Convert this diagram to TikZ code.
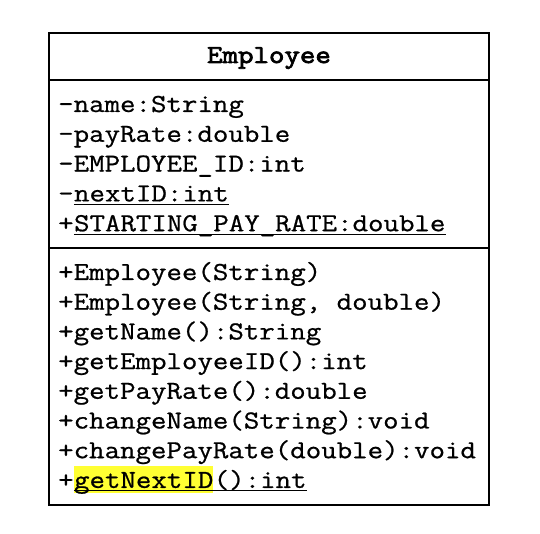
\documentclass[tikz,border=0pt]{standalone}
\usepackage{fontspec}
\newfontfamily\umlfont{Latin Modern Mono}[FakeStretch=1.16, FakeBold=0.8]
\newfontfamily\umltitlefont{Latin Modern Mono}[FakeStretch=1.16, FakeBold=3]
\usetikzlibrary{positioning}
\definecolor{hlyellow}{RGB}{255,255,51}
\tikzset{member/.style={font=\umlfont\fontsize{25.9}{30}\selectfont, inner sep=0pt, anchor=base west},
         classname/.style={member, font=\umltitlefont\fontsize{25.9}{30}\selectfont, anchor=base},
         uline/.style={line width=1.2pt},
         frame/.style={line width=1.6pt},
        }
\begin{document}
\begin{tikzpicture}[x=1pt,y=1pt]
        \useasboundingbox (0,0) rectangle (540,534);
        \fill[white](0,0) rectangle (540,534);

        \coordinate (sw) at (49,29);
        \coordinate (ne) at (489,501);
        \coordinate (t1) at (49,454);
        \coordinate (t2) at (489,454);
        \coordinate (s1) at (49,286);
        \coordinate (s2) at (489,286);
        \draw[frame](sw) rectangle (ne);
        \draw[frame](t1)--(t2);
        \draw[frame](s1)--(s2);

        \node[classname](name)at(269,471){Employee};

        % attributes
        \node[member](a1)at(58,422){-name:String};
        \node[member](a2)at(58,392.2){-payRate:double};
        \node[member](a3)at(58,362.4){-EMPLOYEE\_ID:int};
        \node[member](a4)at(58,332.6){-};
        \node[member](a4u)at(a4.base east){nextID:int};
        \node[member](a5)at(58,302.8){+};
        \node[member](a5u)at(a5.base east){STARTING\_PAY\_RATE:double};
        \draw[uline]([yshift=-3pt]a4u.base west)--([yshift=-3pt]a4u.base east);
        \draw[uline]([yshift=-3pt]a5u.base west)--([yshift=-3pt]a5u.base east);

        % methods
        \node[member](m1)at(58,254){+Employee(String)};
        \node[member](m2)at(58,224.3){+Employee(String, double)};
        \node[member](m3)at(58,194.6){+getName():String};
        \node[member](m4)at(58,164.9){+getEmployeeID():int};
        \node[member](m5)at(58,135.2){+getPayRate():double};
        \node[member](m6)at(58,105.5){+changeName(String):void};
        \node[member](m7)at(58,75.8){+changePayRate(double):void};
        \node[member](m8)at(58,46.1){+};
        \node[member, fill=hlyellow, text height=22pt, text depth=5pt](m8h)at(m8.base east){getNextID};
        \node[member](m8u)at(m8h.base east){():int};
        \draw[uline]([yshift=-3pt]m8h.base west)--([yshift=-3pt]m8u.base east);
    \end{tikzpicture}
\end{document}
